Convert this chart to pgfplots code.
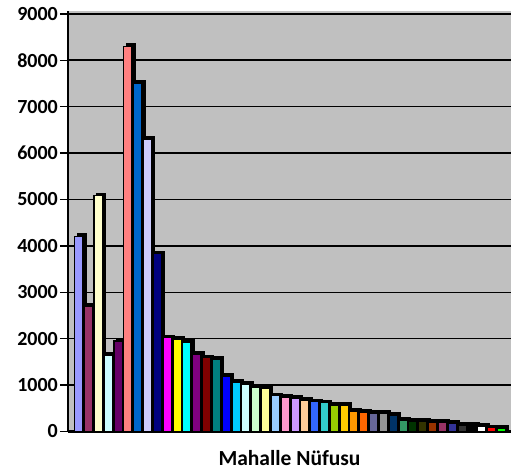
\documentclass[border=0pt]{standalone}
\usepackage{pgfplots}
\pgfplotsset{compat=1.18}
\usepackage{pgfplotstable}
\usepackage{fontspec}
\setmainfont{Carlito}

% Excel palette order, one colour per bar
\definecolor{c0}{HTML}{9999FF}\definecolor{c1}{HTML}{993366}
\definecolor{c2}{HTML}{FFFFCC}\definecolor{c3}{HTML}{CCFFFF}
\definecolor{c4}{HTML}{660066}\definecolor{c5}{HTML}{FF8080}
\definecolor{c6}{HTML}{0066CC}\definecolor{c7}{HTML}{CCCCFF}
\definecolor{c8}{HTML}{000080}\definecolor{c9}{HTML}{FF00FF}
\definecolor{c10}{HTML}{FFFF00}\definecolor{c11}{HTML}{00FFFF}
\definecolor{c12}{HTML}{800080}\definecolor{c13}{HTML}{800000}
\definecolor{c14}{HTML}{008080}\definecolor{c15}{HTML}{0000FF}
\definecolor{c16}{HTML}{00CCFF}\definecolor{c17}{HTML}{CCFFFF}
\definecolor{c18}{HTML}{CCFFCC}\definecolor{c19}{HTML}{FFFF99}
\definecolor{c20}{HTML}{99CCFF}\definecolor{c21}{HTML}{FF99CC}
\definecolor{c22}{HTML}{CC99FF}\definecolor{c23}{HTML}{FFCC99}
\definecolor{c24}{HTML}{3366FF}\definecolor{c25}{HTML}{33CCCC}
\definecolor{c26}{HTML}{99CC00}\definecolor{c27}{HTML}{FFCC00}
\definecolor{c28}{HTML}{FF9900}\definecolor{c29}{HTML}{FF6600}
\definecolor{c30}{HTML}{666699}\definecolor{c31}{HTML}{969696}
\definecolor{c32}{HTML}{003366}\definecolor{c33}{HTML}{339966}
\definecolor{c34}{HTML}{003300}\definecolor{c35}{HTML}{333300}
\definecolor{c36}{HTML}{993300}\definecolor{c37}{HTML}{993366}
\definecolor{c38}{HTML}{333399}\definecolor{c39}{HTML}{333333}
\definecolor{c40}{HTML}{000000}\definecolor{c41}{HTML}{FFFFFF}
\definecolor{c42}{HTML}{FF0000}\definecolor{c43}{HTML}{00FF00}
\definecolor{wall}{HTML}{C0C0C0}

\pgfplotstableread{
x y
0 4200
1 2700
2 5080
3 1640
4 1950
5 8300
6 7500
7 6300
8 3830
9 2020
10 1990
11 1930
12 1660
13 1590
14 1560
15 1190
16 1060
17 1020
18 950
19 930
20 770
21 740
22 710
23 670
24 640
25 620
26 560
27 560
28 430
29 410
30 385
31 385
32 355
33 240
34 225
35 225
36 200
37 190
38 170
39 140
40 130
41 110
42 80
43 75
}\nufus

\begin{document}
\begin{tikzpicture}
\begin{axis}[
    scale only axis,
    width=443pt,
    height=420pt,
    xmin=-1.09, xmax=43.97,
    ymin=0, ymax=9050,
    ytick={0,1000,...,9000},
    xtick=\empty,
    axis background/.style={fill=wall},
    axis x line*=bottom,
    axis y line*=left,
    x axis line style={line width=2.2pt},
    y axis line style={line width=1.5pt},
    tick align=outside,
    major tick length=8pt,
    tick style={black, line width=1.4pt},
    ymajorgrids=true,
    grid style={black, line width=1.5pt},
    /pgf/number format/1000 sep={},
    /pgf/number format/assume math mode=true,
    yticklabel style={font=\fontsize{20}{22}\selectfont\bfseries, inner sep=2pt},
    xlabel={Mahalle Nüfusu},
    xlabel style={at={(axis description cs:0.5,0)}, anchor=north, inner sep=0pt,
        yshift=-19pt, font=\fontsize{21.5}{24}\selectfont\bfseries},
    ybar, bar width=8.4pt, bar shift=0pt,
]
% depth of the columns
\addplot[fill=black, draw=black, line width=1.4pt, xshift=3pt, yshift=2.5pt]
    table[x=x, y=y] {\nufus};
\pgfplotsinvokeforeach{0,...,43}{
    \addplot[fill=c#1, draw=black, line width=1.4pt,
        restrict x to domain=#1:#1]
        table[x=x, y=y] {\nufus};
}
\end{axis}
\pgfresetboundingbox
\path (current axis.south west) ++(-68pt,-41pt) coordinate (bl);
\path (current axis.north east) ++(0pt,11.5pt) coordinate (tr);
\path (bl) rectangle (tr);
\end{tikzpicture}
\end{document}
